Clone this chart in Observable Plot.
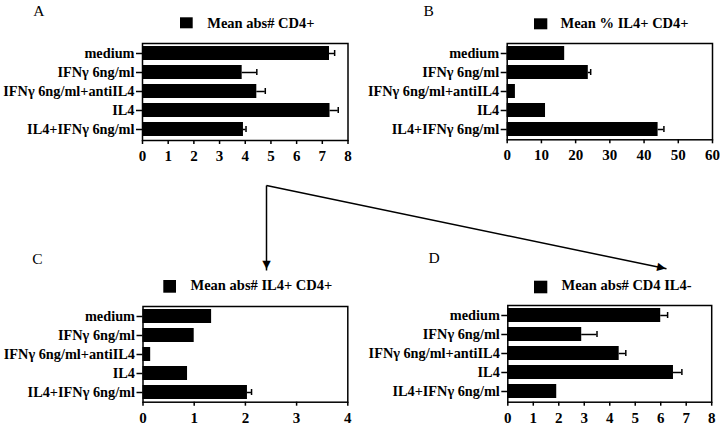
<!DOCTYPE html>
<html><head><meta charset="utf-8">
<script src="https://cdn.jsdelivr.net/npm/d3@7"></script>
<script src="https://cdn.jsdelivr.net/npm/@observablehq/plot@0.6"></script>
<style>
html,body{margin:0;padding:0;background:#fff;}
#root{position:relative;width:720px;height:428px;overflow:hidden;background:#fff;}
#root svg{position:absolute;left:0;top:0;}
</style></head><body><div id="root"></div>
<script>
// ---- data ----
const categories = ["medium", "IFNγ 6ng/ml", "IFNγ 6ng/ml+antiIL4", "IL4", "IL4+IFNγ 6ng/ml"];
const meanAbsCD4 = [7.28, 3.88, 4.45, 7.3, 3.93];
const errAbsCD4 = [0.2, 0.57, 0.33, 0.32, 0.1];
const meanPctIL4 = [16.8, 23.7, 2.4, 11.2, 44.1];
const errPctIL4 = [0, 0.7, 0, 0, 1.7];
const meanAbsIL4pos = [1.34, 1.0, 0.15, 0.87, 2.04];
const errAbsIL4pos = [0, 0, 0, 0, 0.08];
const meanAbsIL4neg = [6.0, 2.9, 4.37, 6.5, 1.92];
const errAbsIL4neg = [0.27, 0.6, 0.26, 0.33, 0];
const ticksA = [0, 1, 2, 3, 4, 5, 6, 7, 8];
const ticksB = [0, 10, 20, 30, 40, 50, 60];
const ticksC = [0, 1, 2, 3, 4];
const ticksD = [0, 1, 2, 3, 4, 5, 6, 7, 8];
const legendLabels = ["Mean abs# CD4+", "Mean % IL4+ CD4+", "Mean abs# IL4+ CD4+", "Mean abs# CD4 IL4-"];
const panelLetters = ["A", "B", "C", "D"];

// ---- layout (pixels) ----
const W = 720, H = 428;
const frames = [
  {left: 142, right: 347.5, top: 43, bottom: 140},
  {left: 506.7, right: 712, top: 43, bottom: 139.3},
  {left: 142.5, right: 347.3, top: 306, bottom: 401.7},
  {left: 507.3, right: 711.2, top: 305, bottom: 401.7}
];
const legendBoxes = [
  {x1: 180, x2: 192.7, y1: 17.3, y2: 28.3, tx: 206.7, ty: 27.5},
  {x1: 534, x2: 547.3, y1: 18.3, y2: 29.3, tx: 560, ty: 27.5},
  {x1: 163.3, x2: 176, y1: 280, y2: 292.7, tx: 190, ty: 289.5},
  {x1: 534, x2: 547.3, y1: 280.7, y2: 293.3, tx: 561, ty: 289.5}
];
const letterPos = [{x: 32.7, y: 15}, {x: 423, y: 15}, {x: 31.7, y: 263}, {x: 428, y: 262}];
const arrowPos = [
  {x1: 266, y1: 185, x2: 266, y2: 270},
  {x1: 266, y1: 185, x2: 666, y2: 268.3}
];

const FONT = '"Liberation Serif", "Times New Roman", serif';
const root = document.getElementById("root");

function boldAll(svg) {
  svg.querySelectorAll("text").forEach(t => { t.style.fontWeight = "bold"; });
  return svg;
}

function panel(f, values, errs, ticks) {
  const data = categories.map((c, i) => ({cat: c, v: values[i], e: errs[i]}));
  const errData = data.filter(d => d.e > 0);
  return boldAll(Plot.plot({
    width: W, height: H,
    marginLeft: f.left, marginRight: W - f.right, marginTop: f.top, marginBottom: H - f.bottom,
    style: {fontFamily: FONT, fontWeight: "bold", fontSize: "14.5px", color: "#000", background: "transparent", overflow: "visible"},
    x: {domain: [ticks[0], ticks[ticks.length - 1]]},
    y: {domain: categories, paddingInner: 0.25, paddingOuter: 0.1},
    marks: [
      Plot.barX(data, {y: "cat", x: "v", fill: "#000"}),
      Plot.ruleY(errData, {y: "cat", x1: "v", x2: d => d.v + d.e, stroke: "#000", strokeWidth: 1.5}),
      Plot.tickX(errData, {y: "cat", x: d => d.v + d.e, stroke: "#000", strokeWidth: 1.5, insetTop: 4, insetBottom: 4}),
      Plot.frame({stroke: "#000", strokeWidth: 1.5}),
      Plot.axisX({ticks, tickFormat: d => String(d), tickSize: 4, tickPadding: 6, label: null, stroke: "#000", strokeWidth: 1.5, fontSize: 15}),
      Plot.axisY({tickSize: 6, tickPadding: 2, label: null, stroke: "#000", strokeWidth: 1.5, fontSize: 14.3})
    ]
  }));
}

root.appendChild(panel(frames[0], meanAbsCD4, errAbsCD4, ticksA));
root.appendChild(panel(frames[1], meanPctIL4, errPctIL4, ticksB));
root.appendChild(panel(frames[2], meanAbsIL4pos, errAbsIL4pos, ticksC));
root.appendChild(panel(frames[3], meanAbsIL4neg, errAbsIL4neg, ticksD));

// ---- annotations: legends, panel letters, arrows ----
const legendData = legendLabels.map((t, i) => ({...legendBoxes[i], text: t}));
const letterData = panelLetters.map((t, i) => ({...letterPos[i], text: t}));
const headData = arrowPos.map(a => {
  const len = Math.hypot(a.x2 - a.x1, a.y2 - a.y1);
  const ux = (a.x2 - a.x1) / len, uy = (a.y2 - a.y1) / len;
  const ang = Math.atan2(uy, ux) * 180 / Math.PI;
  return {x: a.x2 - ux * 4.5, y: a.y2 - uy * 4.5, rot: ang + 90};
});

const legendSvg = boldAll(Plot.plot({
  width: W, height: H,
  style: {fontFamily: FONT, color: "#000", background: "transparent", overflow: "visible"},
  x: {type: "identity", axis: null},
  y: {type: "identity", axis: null},
  marks: [
    Plot.rect(legendData, {x1: "x1", x2: "x2", y1: "y1", y2: "y2", fill: "#000"}),
    Plot.text(legendData, {x: "tx", y: "ty", text: "text", textAnchor: "start", lineAnchor: "bottom", fontSize: 14.5, fill: "#000"})
  ]
}));
root.appendChild(legendSvg);

root.appendChild(Plot.plot({
  width: W, height: H,
  style: {fontFamily: FONT, color: "#000", background: "transparent", overflow: "visible"},
  x: {type: "identity", axis: null},
  y: {type: "identity", axis: null},
  marks: [
    Plot.text(letterData, {x: "x", y: "y", text: "text", textAnchor: "start", lineAnchor: "bottom", fontSize: 15.5, fontWeight: "normal", fill: "#000"}),
    Plot.link(arrowPos, {x1: "x1", y1: "y1", x2: "x2", y2: "y2", stroke: "#000", strokeWidth: 1.5}),
    Plot.text(headData, {x: "x", y: "y", text: () => "▲", rotate: "rot", fontSize: 11, fontFamily: "DejaVu Sans", fill: "#000", textAnchor: "middle", lineAnchor: "middle"})
  ]
}));
</script></body></html>
